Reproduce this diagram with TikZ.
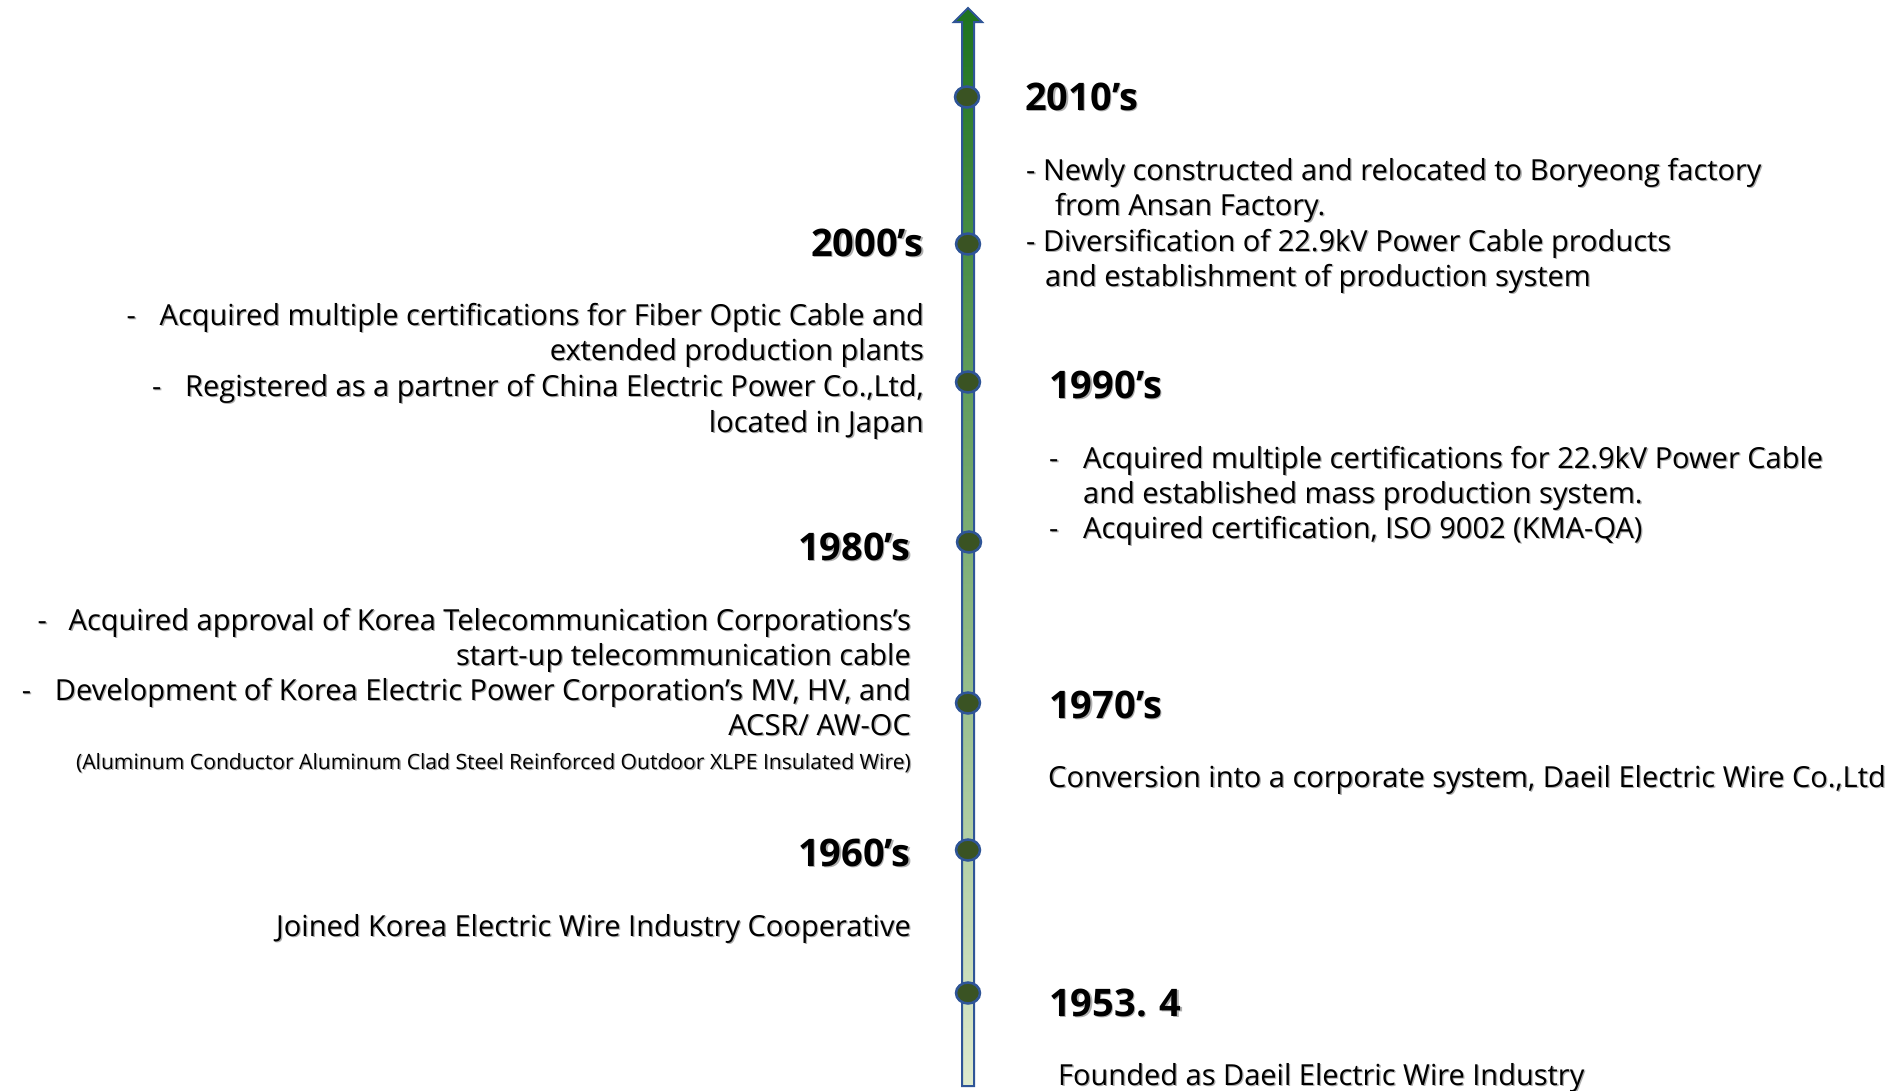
\documentclass[tikz,border=0pt]{standalone}
\usepackage{fontspec}
\setmainfont{Open Sans}
\usetikzlibrary{shapes.geometric}
\definecolor{edgeblue}{RGB}{47,85,151}
\definecolor{dotfill}{RGB}{58,83,35}
\definecolor{gtop}{RGB}{30,115,30}
\definecolor{gmid}{RGB}{155,187,89}
\definecolor{gbot}{RGB}{222,234,205}
\definecolor{shadowgray}{RGB}{175,175,175}
\newcommand\shd[1]{\makebox[0pt][l]{\kern1.3pt\raisebox{-1.3pt}{\textcolor{shadowgray}{#1}}}#1}
\newcommand\dsh[2]{\makebox[#1][l]{-}#2}
\begin{document}
\begin{tikzpicture}[x=1pt,y=-1pt,
 body/.style={inner sep=0pt, font=\fontsize{29}{35}\selectfont},
 head/.style={inner sep=0pt, font=\fontsize{38}{46}\selectfont\bfseries},
 small/.style={inner sep=0pt, font=\fontsize{21.1}{25}\selectfont},
 dot/.style={ellipse, draw=edgeblue, line width=2.5pt, fill=dotfill, minimum width=24pt, minimum height=21pt, inner sep=0pt}]
\useasboundingbox[fill=white] (0,0) rectangle (1904,1090);
% timeline arrow
\draw[edgeblue, line width=2pt, line join=miter, top color=gtop, middle color=gmid, bottom color=gbot]
 (962,1086) -- (962,22) -- (954,22) -- (968,8) -- (982,22) -- (974,22) -- (974,1086) -- cycle;
% dots
\node[dot] (d2010) at (967,97) {};
\node[dot] (d2000) at (968,244) {};
\node[dot] (d1990) at (968,382) {};
\node[dot] (d1980) at (969,542) {};
\node[dot] (d1970) at (968,703) {};
\node[dot] (d1960) at (968,850) {};
\node[dot] (d1953) at (968,993) {};
% right side
\node[head, anchor=base west] (h2010) at (1025,110) {\shd{2010’s}};
\node[body, anchor=base west] (r1a) at (1026,180) {\shd{- Newly constructed and relocated to Boryeong factory}};
\node[body, anchor=base west] (r1b) at (1055,215) {\shd{from Ansan Factory.}};
\node[body, anchor=base west] (r1c) at (1026,251) {\shd{- Diversification of 22.9kV Power Cable products}};
\node[body, anchor=base west] (r1d) at (1045,286) {\shd{and establishment of production system}};
\node[head, anchor=base west] (h1990) at (1049,398) {\shd{1990’s}};
\node[body, anchor=base west] (r2a) at (1049,468) {\shd{\dsh{34pt}{Acquired multiple certifications for 22.9kV Power Cable}}};
\node[body, anchor=base west] (r2b) at (1083,503) {\shd{and established mass production system.}};
\node[body, anchor=base west] (r2c) at (1049,538) {\shd{\dsh{34pt}{Acquired certification, ISO 9002 (KMA-QA)}}};
\node[head, anchor=base west] (h1970) at (1049,718) {\shd{1970’s}};
\node[body, anchor=base west] (r3) at (1048,787) {\shd{Conversion into a corporate system, Daeil Electric Wire Co.,Ltd}};
\node[head, anchor=base west] (h1953) at (1049,1016) {\shd{1953. 4}};
\node[body, anchor=base west] (r4) at (1058,1085) {\shd{Founded as Daeil Electric Wire Industry}};
% left side
\node[head, anchor=base east] (h2000) at (924,256) {\shd{2000’s}};
\node[body, anchor=base east] (l1a) at (924,325) {\shd{\dsh{33pt}{Acquired multiple certifications for Fiber Optic Cable and}}};
\node[body, anchor=base east] (l1b) at (924,360) {\shd{extended production plants}};
\node[body, anchor=base east] (l1c) at (924,396) {\shd{\dsh{33pt}{Registered as a partner of China Electric Power Co.,Ltd,}}};
\node[body, anchor=base east] (l1d) at (924,432) {\shd{located in Japan}};
\node[head, anchor=base east] (h1980) at (911,560) {\shd{1980’s}};
\node[body, anchor=base east] (l2a) at (911,630) {\shd{\dsh{31pt}{Acquired approval of Korea Telecommunication Corporations’s}}};
\node[body, anchor=base east] (l2b) at (911,665) {\shd{start-up telecommunication cable}};
\node[body, anchor=base east] (l2c) at (911,700) {\shd{\dsh{33pt}{Development of Korea Electric Power Corporation’s MV, HV, and}}};
\node[body, anchor=base east] (l2d) at (911,735) {\shd{ACSR/ AW-OC}};
\node[small, anchor=base east] (l2e) at (911,769) {\shd{(Aluminum Conductor Aluminum Clad Steel Reinforced Outdoor XLPE Insulated Wire)}};
\node[head, anchor=base east] (h1960) at (911,866) {\shd{1960’s}};
\node[body, anchor=base east] (l3) at (911,936) {\shd{Joined Korea Electric Wire Industry Cooperative}};
\end{tikzpicture}
\end{document}
